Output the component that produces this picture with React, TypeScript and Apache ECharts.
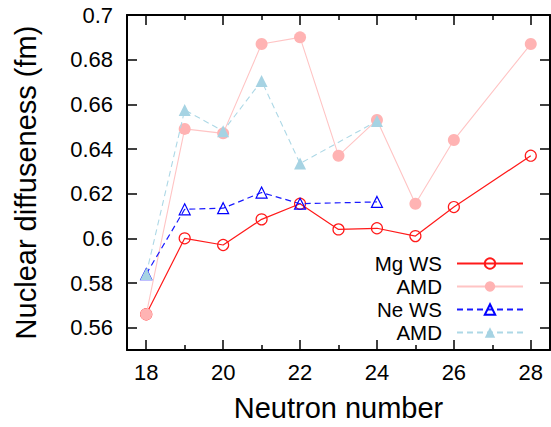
import React, { useEffect, useRef } from "react";
import * as echarts from "echarts";

const xMg = [18, 19, 20, 21, 22, 23, 24, 25, 26, 28];
const mgWS = [0.566, 0.6, 0.597, 0.6085, 0.6155, 0.604, 0.6045, 0.601, 0.614, 0.637];
const mgAMD = [0.566, 0.649, 0.647, 0.687, 0.69, 0.637, 0.653, 0.6155, 0.644, 0.687];
const xNe = [18, 19, 20, 21, 22, 24];
const neWS = [0.584, 0.613, 0.6135, 0.6205, 0.6155, 0.6163];
const neAMD = [0.584, 0.6575, 0.648, 0.6705, 0.6335, 0.6525];

const xMajor = [18, 20, 22, 24, 26, 28];
const xMinor = [19, 21, 23, 25, 27];
const yTicks = [0.56, 0.58, 0.6, 0.62, 0.64, 0.66, 0.68, 0.7];

const FONT = "'Liberation Sans', Arial, Helvetica, sans-serif";

const legendNames: Record<string, string> = {
  "Mg WS": "Mg WS",
  "Mg AMD": "AMD",
  "Ne WS": "Ne WS",
  "Ne AMD": "AMD",
};

export default function App() {
  const ref = useRef<HTMLDivElement>(null);
  useEffect(() => {
    if (!ref.current) return;
    const chart = echarts.init(ref.current, undefined, { renderer: "svg" });
    const lineAxis = { show: true, lineStyle: { color: "#000", width: 2 } };
    const baseX = {
      type: "value" as const,
      min: 17.5,
      max: 28.5,
      splitLine: { show: false },
    };
    const baseY = {
      type: "value" as const,
      min: 0.55,
      max: 0.7,
      splitLine: { show: false },
    };
    const legendRow = (name: string, top: number) => ({
      data: [name],
      orient: "vertical",
      align: "right",
      right: 27,
      top,
      padding: 0,
      itemWidth: 66,
      itemHeight: 13,
      selectedMode: false,
      formatter: (n: string) => legendNames[n] ?? n,
      textStyle: {
        fontSize: 20.5,
        lineHeight: 20,
        fontFamily: FONT,
        color: "#000",
        padding: [0, 10, 0, 0],
      },
    });
    chart.setOption({
      animation: false,
      backgroundColor: "#fff",
      textStyle: { fontFamily: FONT },
      grid: { left: 127, top: 15, width: 423, height: 339, containLabel: false },
      xAxis: [
        {
          ...baseX,
          position: "bottom",
          axisLine: lineAxis,
          axisTick: {
            show: true,
            inside: true,
            length: 10,
            customValues: xMajor,
            lineStyle: { color: "#000", width: 1.5 },
          },
          axisLabel: {
            customValues: xMajor,
            fontSize: 22,
            color: "#000",
            margin: 11,
            fontFamily: FONT,
          },
          name: "Neutron number",
          nameLocation: "middle",
          nameGap: 43,
          nameTextStyle: { fontSize: 29, color: "#000", fontFamily: FONT },
        },
        {
          ...baseX,
          position: "bottom",
          axisLine: { show: false },
          axisTick: {
            show: true,
            inside: true,
            length: 5,
            customValues: xMinor,
            lineStyle: { color: "#000", width: 1.5 },
          },
          axisLabel: { show: false },
        },
        {
          ...baseX,
          position: "top",
          axisLine: lineAxis,
          axisTick: {
            show: true,
            inside: true,
            length: 10,
            customValues: xMajor,
            lineStyle: { color: "#000", width: 1.5 },
          },
          axisLabel: { show: false },
        },
        {
          ...baseX,
          position: "top",
          axisLine: { show: false },
          axisTick: {
            show: true,
            inside: true,
            length: 5,
            customValues: xMinor,
            lineStyle: { color: "#000", width: 1.5 },
          },
          axisLabel: { show: false },
        },
      ],
      yAxis: [
        {
          ...baseY,
          position: "left",
          axisLine: lineAxis,
          axisTick: {
            show: true,
            inside: true,
            length: 10,
            customValues: yTicks,
            lineStyle: { color: "#000", width: 1.5 },
          },
          axisLabel: {
            customValues: yTicks,
            fontSize: 22,
            color: "#000",
            margin: 14,
            fontFamily: FONT,
            formatter: (v: number) => String(Number(v.toFixed(2))),
          },
          name: "Nuclear diffuseness (fm)",
          nameLocation: "middle",
          nameGap: 87,
          nameTextStyle: { fontSize: 29, color: "#000", fontFamily: FONT },
        },
        {
          ...baseY,
          position: "right",
          axisLine: lineAxis,
          axisTick: {
            show: true,
            inside: true,
            length: 10,
            customValues: yTicks,
            lineStyle: { color: "#000", width: 1.5 },
          },
          axisLabel: { show: false },
        },
      ],
      legend: [
        legendRow("Mg WS", 253),
        legendRow("Mg AMD", 276),
        legendRow("Ne WS", 299),
        legendRow("Ne AMD", 322),
      ],
      series: [
        {
          name: "Mg WS",
          type: "line",
          xAxisIndex: 0,
          yAxisIndex: 0,
          data: xMg.map((x, i) => [x, mgWS[i]]),
          symbol: "circle",
          symbolSize: 11,
          lineStyle: { color: "#ff1a1a", width: 1.2 },
          itemStyle: { color: "rgba(255,255,255,0)", borderColor: "#ff1a1a", borderWidth: 1.2 },
          z: 2,
        },
        {
          name: "Mg AMD",
          type: "line",
          xAxisIndex: 0,
          yAxisIndex: 0,
          data: xMg.map((x, i) => [x, mgAMD[i]]),
          symbol: "circle",
          symbolSize: 12,
          lineStyle: { color: "#ffc4c4", width: 1.1 },
          itemStyle: { color: "#ffb3b3", borderWidth: 0 },
          z: 3,
        },
        {
          name: "Ne WS",
          type: "line",
          xAxisIndex: 0,
          yAxisIndex: 0,
          data: xNe.map((x, i) => [x, neWS[i]]),
          symbol: "triangle",
          symbolSize: 11,
          lineStyle: { color: "#1a1aff", width: 1.2, type: [6, 4] },
          itemStyle: { color: "rgba(255,255,255,0)", borderColor: "#0000ff", borderWidth: 1.2 },
          z: 4,
        },
        {
          name: "Ne AMD",
          type: "line",
          xAxisIndex: 0,
          yAxisIndex: 0,
          data: xNe.map((x, i) => [x, neAMD[i]]),
          symbol: "triangle",
          symbolSize: 12,
          lineStyle: { color: "#add8e6", width: 1.1, type: [6, 4] },
          itemStyle: { color: "#a6d3e3", borderWidth: 0 },
          z: 5,
        },
      ],
    });
    return () => chart.dispose();
  }, []);
  return (
    <div
      ref={ref}
      style={{ position: "absolute", left: 0, top: 0, width: 551, height: 427 }}
    />
  );
}
